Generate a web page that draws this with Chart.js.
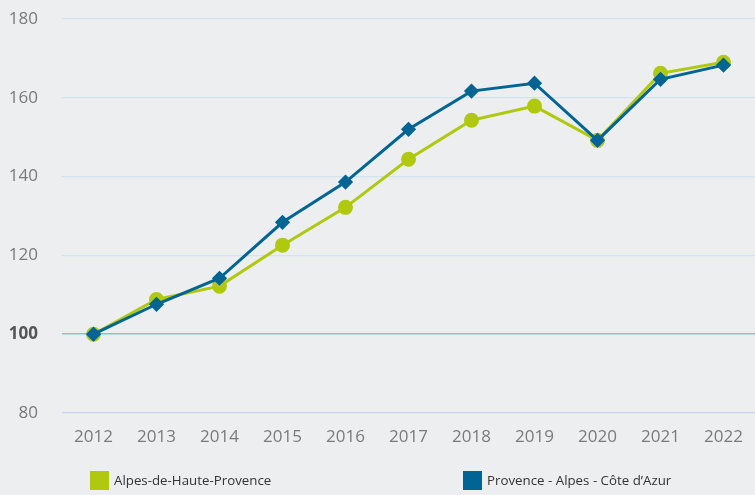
<!DOCTYPE html>
<html>
<head>
<meta charset="utf-8">
<script src="https://cdn.jsdelivr.net/npm/chart.js@4"></script>
<style>
  body { margin: 0; background: #edeef0; font-family: "Open Sans", sans-serif; }
  #wrap { position: relative; width: 755px; height: 495px; }
  .leg { position: absolute; top: 471px; font-size: 13.3px; color: #333; line-height: 19px; }
  .leg span { display: inline-block; width: 19px; height: 19px; vertical-align: top; margin-right: 5px; }
</style>
</head>
<body>
<div id="wrap">
  <canvas id="chart" width="755" height="495"></canvas>
  <div class="leg" id="leg0" style="left:90px"></div>
  <div class="leg" id="leg1" style="left:463px"></div>
</div>
<script>
var years = ['2012', '2013', '2014', '2015', '2016', '2017', '2018', '2019', '2020', '2021', '2022'];
var alpesHP = [100, 108.8, 112.2, 122.6, 132.2, 144.4, 154.3, 157.9, 149.2, 166.2, 169.0];
var paca = [100, 107.6, 114.2, 128.4, 138.6, 152.0, 161.7, 163.7, 149.2, 164.7, 168.3];
var seriesNames = ['Alpes-de-Haute-Provence', 'Provence - Alpes - Côte d\u2019Azur'];
var seriesColors = ['#b0c90f', '#006595'];

document.getElementById('leg0').innerHTML = '<span style="background:' + seriesColors[0] + '"></span>' + seriesNames[0];
document.getElementById('leg1').innerHTML = '<span style="background:' + seriesColors[1] + '"></span>' + seriesNames[1];

new Chart(document.getElementById('chart'), {
    type: 'line',
    data: {
        labels: years,
        datasets: [{
            label: seriesNames[0],
            data: alpesHP,
            borderColor: seriesColors[0],
            backgroundColor: seriesColors[0],
            borderWidth: 3,
            pointRadius: 6,
            pointStyle: 'circle',
            tension: 0,
            order: 2
        }, {
            label: seriesNames[1],
            data: paca,
            borderColor: seriesColors[1],
            backgroundColor: seriesColors[1],
            borderWidth: 3,
            pointRadius: 5.5,
            pointStyle: 'rectRot',
            tension: 0,
            order: 1
        }]
    },
    options: {
        responsive: false,
        animation: false,
        layout: { autoPadding: false, padding: { top: 19, bottom: 0, left: 0, right: 0 } },
        plugins: { legend: { display: false }, tooltip: { enabled: false } },
        scales: {
            x: {
                offset: true,
                afterFit: function(scale) {
                    scale.height = 82;
                    scale.paddingLeft = 0;
                    scale.paddingRight = 0;
                },
                grid: { display: false },
                border: { display: false },
                ticks: { color: '#7a7a7a', font: { family: 'Open Sans', size: 17 }, padding: 6, maxRotation: 0 }
            },
            y: {
                min: 80,
                max: 180,
                afterFit: function(scale) {
                    scale.width = 62;
                    scale.paddingTop = 0;
                    scale.paddingBottom = 0;
                },
                border: { display: false },
                grid: {
                    drawTicks: false,
                    lineWidth: function(ctx) { return ctx.tick && ctx.tick.value === 100 ? 1.5 : 1.2; },
                    color: function(ctx) {
                        if (ctx.tick && ctx.tick.value === 100) return '#82c6e3';
                        if (ctx.tick && ctx.tick.value === 80) return '#c6d1ea';
                        return '#cfe3f1';
                    }
                },
                ticks: {
                    stepSize: 20,
                    padding: 24,
                    color: function(ctx) { return ctx.tick && ctx.tick.value === 100 ? '#555' : '#7a7a7a'; },
                    font: function(ctx) {
                        var base = ctx.tick && ctx.tick.value === 100;
                        return { family: 'Open Sans', size: 17, weight: base ? 'bold' : 'normal' };
                    }
                }
            }
        }
    }
});
</script>
</body>
</html>
